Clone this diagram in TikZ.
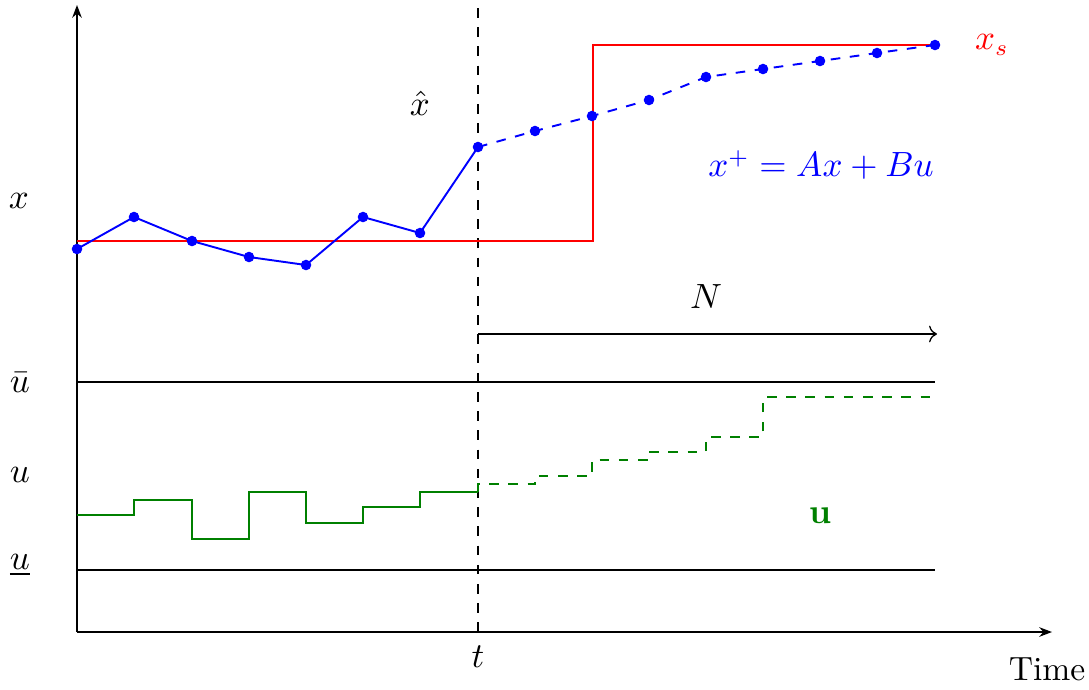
\documentclass[tikz,border=0pt]{standalone}
\usepackage{amsmath,amssymb}
\usetikzlibrary{arrows.meta}
\definecolor{ublue}{RGB}{0,0,255}
\definecolor{ugreen}{RGB}{0,128,0}
\begin{document}
\begin{tikzpicture}[x=0.3125pt,y=-0.3125pt,
  font=\fontsize{10.5}{12.6}\selectfont,
  axis/.style={thin,-{Stealth[length=4pt,width=3pt]}},
  bound/.style={thin},
  traj/.style={ublue,semithick},
  pred/.style={ublue,semithick,dashed},
  dot/.style={circle,fill=ublue,inner sep=0pt,minimum size=3.3pt},
  ref/.style={red,semithick},
  inp/.style={ugreen,semithick},
  inpp/.style={ugreen,semithick,dashed},
  lbl/.style={inner sep=0pt}]
\useasboundingbox (0,0) rectangle (1089,689);
% axes
\coordinate (O) at (77,632);
\coordinate (Ytop) at (77,5);
\coordinate (Xend) at (1052,632);
\draw[axis] (O) -- (Ytop);
\draw[axis] (O) -- (Xend);
\node[lbl,anchor=base east] (time) at (1086,680) {Time};
% current time
\coordinate (Ttop) at (478,8);
\coordinate (Tbot) at (478,632);
\draw[thick,dashed] (Ttop) -- (Tbot);
\node[lbl] (tl) at (478,657) {$t$};
% reference
\coordinate (R0) at (77,241);
\coordinate (R1) at (593,241);
\coordinate (R2) at (593,45);
\coordinate (R3) at (935,45);
\draw[ref] (R0) -- (R1) -- (R2) -- (R3);
\node[lbl,red] (xs) at (992,45) {$x_s$};
% past trajectory
\coordinate (P0) at (77,249);
\coordinate (P1) at (134,217);
\coordinate (P2) at (192,241);
\coordinate (P3) at (249,257);
\coordinate (P4) at (306,265);
\coordinate (P5) at (363,217);
\coordinate (P6) at (420,233);
\coordinate (P7) at (478,147);
\draw[traj] (P0) -- (P1) -- (P2) -- (P3) -- (P4) -- (P5) -- (P6) -- (P7);
% prediction
\coordinate (Q1) at (535,131);
\coordinate (Q2) at (592,116);
\coordinate (Q3) at (649,100);
\coordinate (Q4) at (706,77);
\coordinate (Q5) at (763,69);
\coordinate (Q6) at (820,61);
\coordinate (Q7) at (877,53);
\coordinate (Q8) at (935,45);
\draw[pred] (P7) -- (Q1) -- (Q2) -- (Q3) -- (Q4) -- (Q5) -- (Q6) -- (Q7) -- (Q8);
\foreach \p in {P0,P1,P2,P3,P4,P5,P6,P7,Q1,Q2,Q3,Q4,Q5,Q6,Q7,Q8}
  \node[dot] at (\p) {};
\node[lbl] (xhat) at (420,103) {$\hat{x}$};
\node[lbl,ublue] (model) at (821,165) {$x^+ = Ax + Bu$};
\node[lbl] (xl) at (19,201) {$x$};
% horizon
\node[lbl] (N) at (706,297) {$N$};
\coordinate (Ha) at (478,334);
\coordinate (Hb) at (937,334);
\draw[thin,->] (Ha) -- (Hb);
% input bounds
\coordinate (Ub0) at (77,382);
\coordinate (Ub1) at (935,382);
\draw[bound] (Ub0) -- (Ub1);
\coordinate (Ul0) at (77,570);
\coordinate (Ul1) at (935,570);
\draw[bound] (Ul0) -- (Ul1);
\node[lbl] (ubar) at (20,383) {$\bar{u}$};
\node[lbl] (ul) at (20,475) {$u$};
\node[lbl] (uunder) at (20,565) {$\underline{u}$};
% past input
\coordinate (G0) at (77,515);
\coordinate (G1) at (478,492);
\draw[inp] (G0) -- (134,515) -- (134,500) -- (192,500) -- (192,539) -- (249,539) -- (249,492) -- (306,492) -- (306,523) -- (363,523) -- (363,507) -- (420,507) -- (420,492) -- (G1);
% predicted input
\coordinate (H1) at (935,397);
\draw[inpp] (G1) -- (478,484) -- (535,484) -- (535,476) -- (592,476) -- (592,460) -- (649,460) -- (649,452) -- (706,452) -- (706,437) -- (763,437) -- (763,397) -- (H1);
\node[lbl,ugreen] (ubold) at (820,516) {$\mathbf{u}$};
\end{tikzpicture}
\end{document}
